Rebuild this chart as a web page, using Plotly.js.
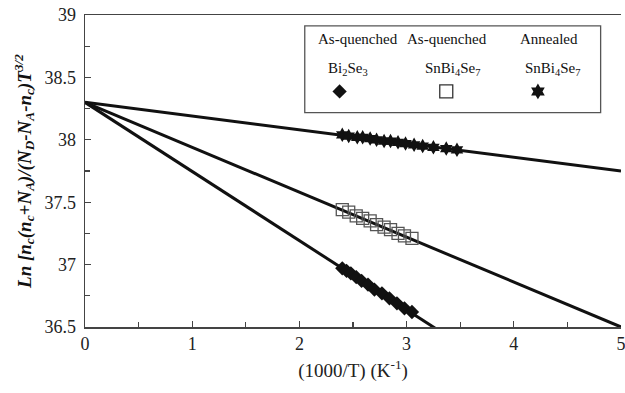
<!DOCTYPE html>
<html><head><meta charset="utf-8">
<script src="https://cdn.plot.ly/plotly-3.0.1.min.js"></script>
<style>html,body{margin:0;padding:0;background:#fff}#chart{width:625px;height:393px}</style>
</head><body><div id="chart"></div>
<script>
// Fitted lines: common intercept, slopes per sample
const lineIntercept = 38.3;
const slopeAnnealed = -0.11;
const slopeSnBi4Se7 = -0.36;
const slopeBi2Se3 = -0.554;
const lineX = [0, 5];

// Data points
const bi2se3X = [2.40, 2.44, 2.48, 2.53, 2.58, 2.64, 2.70, 2.77, 2.84, 2.91, 2.98, 3.05];
const bi2se3Y = [36.97, 36.95, 36.93, 36.90, 36.87, 36.84, 36.80, 36.77, 36.73, 36.69, 36.65, 36.62];

const snQX = [2.40, 2.46, 2.53, 2.59, 2.66, 2.72, 2.79, 2.85, 2.92, 2.98, 3.05];
const snQY = [37.44, 37.42, 37.39, 37.37, 37.35, 37.32, 37.30, 37.28, 37.25, 37.23, 37.21];

const snAX = [2.40, 2.46, 2.54, 2.59, 2.66, 2.72, 2.79, 2.85, 2.92, 2.99, 3.07, 3.15, 3.25, 3.37, 3.47];
const snAY = [38.04, 38.03, 38.02, 38.02, 38.01, 38.00, 37.99, 37.99, 37.98, 37.97, 37.96, 37.95, 37.94, 37.93, 37.92];

// Legend text
const legendHeads = ['As-quenched', 'As-quenched', 'Annealed'];
const legendNames = ['Bi<sub>2</sub>Se<sub>3</sub>', 'SnBi<sub>4</sub>Se<sub>7</sub>', 'SnBi<sub>4</sub>Se<sub>7</sub>'];

const lineY = s => lineX.map(x => lineIntercept + s * x);

const lineStyle = {color: '#111', width: 3};
const traces = [
  {x: lineX, y: lineY(slopeAnnealed), mode: 'lines', line: lineStyle},
  {x: lineX, y: lineY(slopeSnBi4Se7), mode: 'lines', line: lineStyle},
  {x: lineX, y: lineY(slopeBi2Se3), mode: 'lines', line: lineStyle},
  {x: bi2se3X, y: bi2se3Y, mode: 'markers', marker: {symbol: 'diamond', size: 11, color: '#111'}},
  {x: snQX, y: snQY, mode: 'markers', marker: {symbol: 'square-open', size: 12, color: '#555', line: {width: 1.3}}},
  {x: snAX, y: snAY, mode: 'markers', marker: {symbol: 'hexagram', size: 11, color: '#111'}},
  // legend keys, on a hidden overlay axis in paper-like units
  {x: [0.475], y: [0.755], xaxis: 'x2', yaxis: 'y2', mode: 'markers', marker: {symbol: 'diamond', size: 11, color: '#111'}},
  {x: [0.674], y: [0.755], xaxis: 'x2', yaxis: 'y2', mode: 'markers', marker: {symbol: 'square-open', size: 13, color: '#333', line: {width: 1.3}}},
  {x: [0.845], y: [0.755], xaxis: 'x2', yaxis: 'y2', mode: 'markers', marker: {symbol: 'hexagram', size: 12, color: '#111'}}
];

const fam = 'Liberation Serif, Times New Roman, serif';
const font = {family: fam, size: 18, color: '#222'};
const headX = [0.51, 0.675, 0.866];
const nameX = [0.491, 0.686, 0.873];
const annotations = [];
legendHeads.forEach((t, i) => annotations.push({xref: 'paper', yref: 'paper', x: headX[i], y: 0.923, xanchor: 'center', yanchor: 'middle', text: t, showarrow: false, font: {family: fam, size: 15, color: '#111'}}));
legendNames.forEach((t, i) => annotations.push({xref: 'paper', yref: 'paper', x: nameX[i], y: 0.827, xanchor: 'center', yanchor: 'middle', text: t, showarrow: false, font: {family: fam, size: 15, color: '#111'}}));

const layout = {
  width: 625, height: 393,
  margin: {l: 85, r: 4, t: 15, b: 66},
  paper_bgcolor: '#fff', plot_bgcolor: '#fff',
  showlegend: false,
  font: font,
  xaxis: {
    range: [0, 5], dtick: 1, tick0: 0, ticks: 'inside', ticklen: 6, tickcolor: '#444', tickwidth: 1.2,
    showline: true, linecolor: '#444', linewidth: 1.5, mirror: true,
    showgrid: false, zeroline: false, ticklabeloverflow: 'allow',
    minor: {dtick: 0.5, ticks: 'inside', ticklen: 5, tickcolor: '#444', showgrid: false},
    tickfont: font,
    title: {text: '(1000/T) (K<sup>-1</sup>)', font: {family: fam, size: 19, color: '#222'}, standoff: 10}
  },
  yaxis: {
    range: [36.5, 39], dtick: 0.5, tick0: 36.5, ticks: 'inside', ticklen: 6, tickcolor: '#444', tickwidth: 1.2,
    showline: true, linecolor: '#444', linewidth: 1.5,
    showgrid: false, zeroline: false,
    minor: {dtick: 0.25, ticks: 'inside', ticklen: 5, tickcolor: '#444', showgrid: false},
    tickfont: font, ticklabelstandoff: 4,
    title: {text: '<b><i>Ln [n<sub>c</sub>(n<sub>c</sub>+N<sub>A</sub>)/(N<sub>D</sub>-N<sub>A</sub>-n<sub>c</sub>)T<sup>3/2</sup></i></b>', font: {family: fam, size: 19, color: '#111'}, standoff: 8}
  },
  xaxis2: {overlaying: 'x', range: [0, 1], visible: false, fixedrange: true},
  yaxis2: {overlaying: 'y', range: [0, 1], visible: false, fixedrange: true},
  shapes: [
    {type: 'rect', xref: 'paper', yref: 'paper', x0: 0.41, x1: 0.962, y0: 0.687, y1: 0.965, line: {color: '#555', width: 1.3}, fillcolor: '#fff', layer: 'below'}
  ],
  annotations: annotations
};

Plotly.newPlot('chart', traces, layout, {staticPlot: true, displayModeBar: false});
</script>
</body></html>
